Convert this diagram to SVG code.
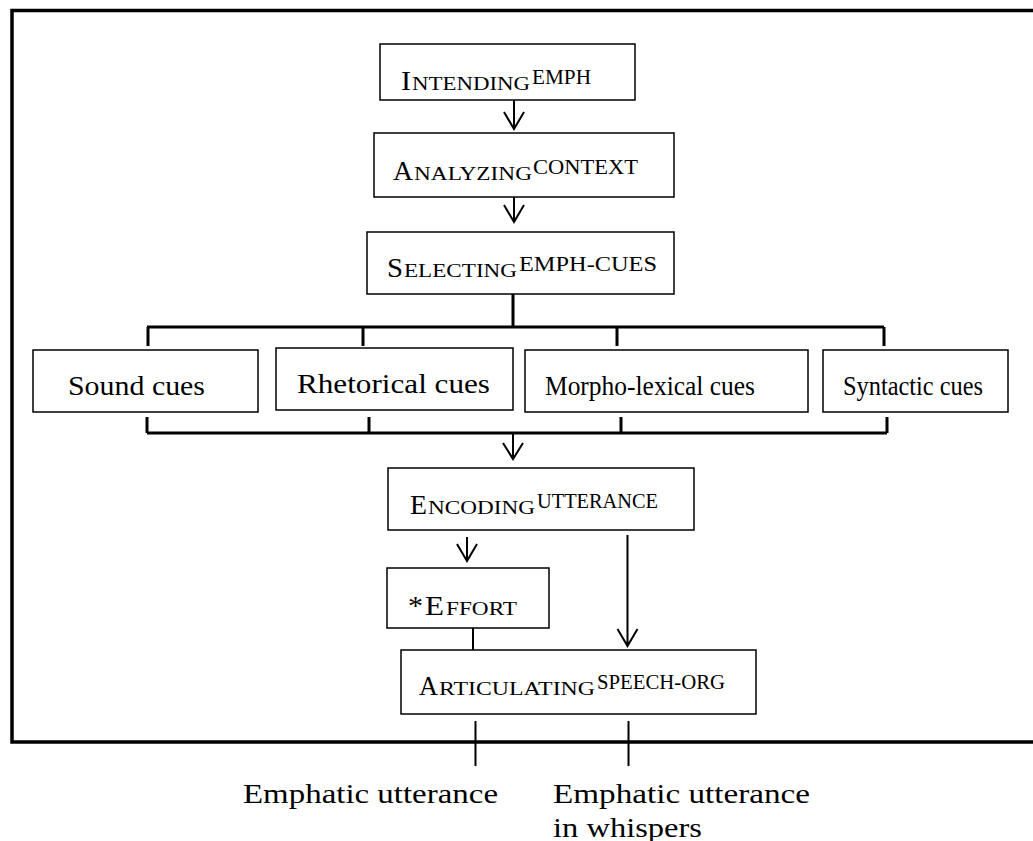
<svg xmlns="http://www.w3.org/2000/svg" width="1033" height="841" viewBox="0 0 1033 841">
<defs>
<style>
.box{fill:#fff;stroke:#000;stroke-width:1.5}
.t{font-family:"Liberation Serif","Times New Roman",serif;font-size:27px;fill:#000}
.sc{font-size:18px}
.sup{font-size:22px}
.frame{fill:none;stroke:#000;stroke-width:3.5}
.br{fill:none;stroke:#000;stroke-width:3}
.ln{fill:none;stroke:#000;stroke-width:2}
</style>
</defs>
<rect width="1033" height="841" fill="#fff"/>
<path class="frame" d="M1033,10.5 H12 V742 H1033"/>

<g id="connectors">
  <path class="ln" d="M514,100 V129 M504,112 L514,129 L524,112"/>
  <path class="ln" d="M514,197 V222 M504,205 L514,222 L524,205"/>
  <path class="ln" d="M513,433 V459 M503,443 L513,459 L523,443"/>
  <path class="ln" d="M467,537 V561 M457,544 L467,561 L477,544"/>
  <path class="ln" d="M627.5,535 V646 M617.5,629 L627.5,646 L637.5,629"/>
  <path class="ln" d="M473,628 V650"/>
  <path class="br" d="M513,294 V327 M147,327 H884 M148,327 V346 M363,327 V346 M617,327 V346 M884,327 V346"/>
  <path class="br" d="M147,433 H887 M147,417 V433 M369,417 V433 M621,417 V433 M887,417 V433"/>
  <path class="ln" d="M475.5,721 V766 M628.5,721 V766"/>
</g>

<g id="intending">
  <rect class="box" x="380" y="44" width="255" height="56"/>
  <text class="t" x="401" y="90"><tspan textLength="10" lengthAdjust="spacingAndGlyphs">I</tspan><tspan class="sc" x="412" textLength="118" lengthAdjust="spacingAndGlyphs">NTENDING</tspan><tspan class="sup" x="532" dy="-6" textLength="59" lengthAdjust="spacingAndGlyphs">EMPH</tspan></text>
</g>

<g id="analyzing">
  <rect class="box" x="374" y="133" width="300" height="64"/>
  <text class="t" x="393" y="180"><tspan textLength="20" lengthAdjust="spacingAndGlyphs">A</tspan><tspan class="sc" x="414" textLength="118" lengthAdjust="spacingAndGlyphs">NALYZING</tspan><tspan class="sup" x="533" dy="-6" textLength="105" lengthAdjust="spacingAndGlyphs">CONTEXT</tspan></text>
</g>

<g id="selecting">
  <rect class="box" x="367" y="232" width="307" height="62"/>
  <text class="t" x="387" y="277"><tspan textLength="16" lengthAdjust="spacingAndGlyphs">S</tspan><tspan class="sc" x="404" textLength="113" lengthAdjust="spacingAndGlyphs">ELECTING</tspan><tspan class="sup" x="519" dy="-6" textLength="138" lengthAdjust="spacingAndGlyphs">EMPH-CUES</tspan></text>
</g>

<g id="sound">
  <rect class="box" x="33" y="350" width="225" height="62"/>
  <text class="t" x="68" y="395" textLength="137" lengthAdjust="spacingAndGlyphs">Sound cues</text>
</g>
<g id="rhetorical">
  <rect class="box" x="276" y="348" width="237" height="62"/>
  <text class="t" x="297" y="393" textLength="193" lengthAdjust="spacingAndGlyphs">Rhetorical cues</text>
</g>
<g id="morpho">
  <rect class="box" x="525" y="350" width="283" height="62"/>
  <text class="t" x="545" y="395" textLength="210" lengthAdjust="spacingAndGlyphs">Morpho-lexical cues</text>
</g>
<g id="syntactic">
  <rect class="box" x="823" y="350" width="185" height="62"/>
  <text class="t" x="843" y="395" textLength="140" lengthAdjust="spacingAndGlyphs">Syntactic cues</text>
</g>

<g id="encoding">
  <rect class="box" x="388" y="468" width="306" height="62"/>
  <text class="t" x="410" y="514"><tspan textLength="17" lengthAdjust="spacingAndGlyphs">E</tspan><tspan class="sc" x="428" textLength="107" lengthAdjust="spacingAndGlyphs">NCODING</tspan><tspan class="sup" x="537" dy="-6" textLength="121" lengthAdjust="spacingAndGlyphs">UTTERANCE</tspan></text>
</g>

<g id="effort">
  <rect class="box" x="387" y="568" width="162" height="60"/>
  <text class="t" x="408" y="615"><tspan textLength="15" lengthAdjust="spacingAndGlyphs">*</tspan><tspan x="425" textLength="19" lengthAdjust="spacingAndGlyphs">E</tspan><tspan class="sc" x="446" textLength="71" lengthAdjust="spacingAndGlyphs">FFORT</tspan></text>
</g>

<g id="articulating">
  <rect class="box" x="401" y="650" width="355" height="64"/>
  <text class="t" x="419" y="695"><tspan textLength="19" lengthAdjust="spacingAndGlyphs">A</tspan><tspan class="sc" x="439" textLength="156" lengthAdjust="spacingAndGlyphs">RTICULATING</tspan><tspan class="sup" x="597" dy="-6" textLength="128" lengthAdjust="spacingAndGlyphs">SPEECH-ORG</tspan></text>
</g>

<g id="out-emphatic">
  <text class="t" x="243" y="803" textLength="255" lengthAdjust="spacingAndGlyphs">Emphatic utterance</text>
</g>
<g id="out-whispers">
  <text class="t" x="553" y="803" textLength="257" lengthAdjust="spacingAndGlyphs">Emphatic utterance</text>
  <text class="t" x="553" y="837" textLength="149" lengthAdjust="spacingAndGlyphs">in whispers</text>
</g>
</svg>
